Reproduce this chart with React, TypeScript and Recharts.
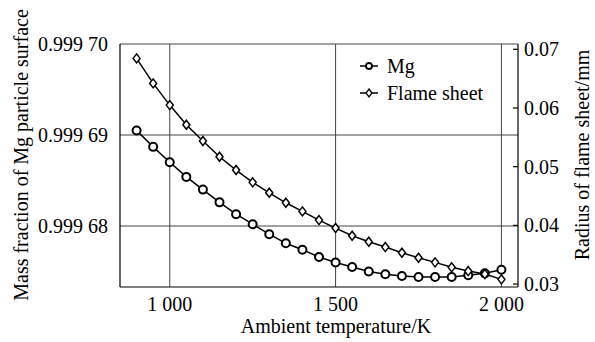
import React from "react"
import {
  LineChart,
  Line,
  XAxis,
  YAxis,
  CartesianGrid,
  Label,
} from "recharts"

const temperatures = [
  900, 950, 1000, 1050, 1100, 1150, 1200, 1250, 1300, 1350, 1400, 1450,
  1500, 1550, 1600, 1650, 1700, 1750, 1800, 1850, 1900, 1950, 2000,
]

// mass fraction of Mg at the particle surface (left axis)
const mgFraction = [
  0.9996905, 0.9996887, 0.999687, 0.9996854, 0.999684, 0.9996826, 0.9996813,
  0.9996802, 0.9996791, 0.9996781, 0.9996774, 0.9996766, 0.999676, 0.9996755,
  0.999675, 0.9996747, 0.9996745, 0.9996744, 0.9996744, 0.9996744, 0.9996746,
  0.9996748, 0.9996752,
]

// flame sheet radius in mm (right axis)
const flameRadius = [
  0.06845, 0.06419, 0.06049, 0.05714, 0.05436, 0.05169, 0.04942, 0.04733,
  0.04555, 0.04385, 0.04238, 0.0409, 0.03954, 0.03823, 0.03721, 0.0363,
  0.03533, 0.03448, 0.0337, 0.03285, 0.03221, 0.0317, 0.0308,
]

const xTicks = [1000, 1500, 2000]
const leftTicks = [0.99968, 0.99969, 0.9997]
const rightTicks = [0.03, 0.04, 0.05, 0.06, 0.07]
const seriesNames = ["Mg", "Flame sheet"]

const data = temperatures.map((t, i) => ({
  t,
  mg: mgFraction[i],
  flame: flameRadius[i],
}))

const FONT = '"Liberation Serif", "Times New Roman", serif'

const CircleDot = (props: any) => {
  const { cx, cy } = props
  if (cx == null || cy == null) return null
  return <circle cx={cx} cy={cy} r={4} fill="#fff" stroke="#000" strokeWidth={2} />
}

const DiamondDot = (props: any) => {
  const { cx, cy } = props
  if (cx == null || cy == null) return null
  return (
    <path
      d={`M${cx},${cy - 4.5}L${cx + 3.5},${cy}L${cx},${cy + 4.5}L${cx - 3.5},${cy}Z`}
      fill="#fff"
      stroke="#000"
      strokeWidth={1.5}
    />
  )
}

const fmtThousands = (v: number) => {
  const s = String(v)
  return s.length > 3 ? s.slice(0, s.length - 3) + " " + s.slice(-3) : s
}

const fmtFraction = (v: number) => {
  const s = v.toFixed(5)
  return s.slice(0, 5) + " " + s.slice(5)
}

function LegendBox() {
  return (
    <div
      style={{
        position: "absolute",
        left: 359,
        top: 52,
        fontFamily: FONT,
        fontSize: 20,
        color: "#000",
      }}
    >
      {seriesNames.map((name, i) => (
        <div key={name} style={{ display: "flex", alignItems: "center", height: 27 }}>
          <svg width={26} height={14} style={{ marginRight: 2 }}>
            <line x1={1} y1={7} x2={19} y2={7} stroke="#000" strokeWidth={1.5} />
            {i === 0 ? (
              <circle cx={10} cy={7} r={3} fill="#fff" stroke="#000" strokeWidth={1.8} />
            ) : (
              <path d="M10,3L13,7L10,11L7,7Z" fill="#fff" stroke="#000" strokeWidth={1.3} />
            )}
          </svg>
          <span style={{ lineHeight: "20px" }}>{name}</span>
        </div>
      ))}
    </div>
  )
}

export default function App() {
  const tickStyle = { fill: "#000", fontSize: 20, fontFamily: FONT }
  return (
    <div style={{ position: "absolute", left: 0, top: 0, width: 595, height: 342, background: "#fff" }}>
      <LineChart
        width={595}
        height={342}
        data={data}
        margin={{ top: 44, right: 0, bottom: 0, left: 0 }}
      >
        <CartesianGrid
          yAxisId="left"
          stroke="#444"
          strokeWidth={1}
          horizontalValues={leftTicks}
          verticalValues={xTicks}
        />
        <XAxis
          dataKey="t"
          type="number"
          domain={[850, 2050]}
          ticks={xTicks}
          tickFormatter={fmtThousands}
          tick={tickStyle}
          tickLine={false}
          tickSize={0}
          tickMargin={10}
          height={55}
          axisLine={{ stroke: "#000", strokeWidth: 1.2 }}
          allowDataOverflow
        >
          <Label
            content={() => (
              <text
                x={336}
                y={333}
                textAnchor="middle"
                fill="#000"
                fontSize={20}
                fontFamily={FONT}
              >
                Ambient temperature/K
              </text>
            )}
          />
        </XAxis>
        <XAxis
          xAxisId="top"
          orientation="top"
          type="number"
          domain={[850, 2050]}
          tick={false}
          tickLine={false}
          height={0}
          axisLine={{ stroke: "#000", strokeWidth: 1.2 }}
        />
        <YAxis
          yAxisId="left"
          type="number"
          domain={[0.9996733, 0.9997]}
          ticks={leftTicks}
          tickFormatter={fmtFraction}
          tick={tickStyle}
          tickLine={false}
          tickSize={0}
          tickMargin={12}
          width={120}
          axisLine={{ stroke: "#000", strokeWidth: 1.2 }}
          allowDataOverflow
        >
          <Label
            content={() => (
              <text
                x={21}
                y={155}
                transform="rotate(-90 21 155)"
                textAnchor="middle"
                dominantBaseline="central"
                fill="#000"
                fontSize={20}
                fontFamily={FONT}
              >
                Mass fraction of Mg particle surface
              </text>
            )}
          />
        </YAxis>
        <YAxis
          yAxisId="right"
          orientation="right"
          type="number"
          domain={[0.0295, 0.0709]}
          ticks={rightTicks}
          tickFormatter={(v: number) => v.toFixed(2)}
          tick={tickStyle}
          tickLine={{ stroke: "#000", strokeWidth: 1.2 }}
          tickSize={-5}
          tickMargin={11}
          width={77}
          axisLine={{ stroke: "#000", strokeWidth: 1.2 }}
          allowDataOverflow
        >
          <Label
            content={() => (
              <text
                x={582}
                y={155}
                transform="rotate(-90 582 155)"
                textAnchor="middle"
                dominantBaseline="central"
                fill="#000"
                fontSize={20}
                fontFamily={FONT}
              >
                Radius of flame sheet/mm
              </text>
            )}
          />
        </YAxis>
        <Line
          yAxisId="left"
          dataKey="mg"
          name={seriesNames[0]}
          type="linear"
          stroke="#000"
          strokeWidth={1.5}
          dot={<CircleDot />}
          activeDot={false}
          isAnimationActive={false}
        />
        <Line
          yAxisId="right"
          dataKey="flame"
          name={seriesNames[1]}
          type="linear"
          stroke="#000"
          strokeWidth={1.5}
          dot={<DiamondDot />}
          activeDot={false}
          isAnimationActive={false}
        />
      </LineChart>
      <LegendBox />
    </div>
  )
}
